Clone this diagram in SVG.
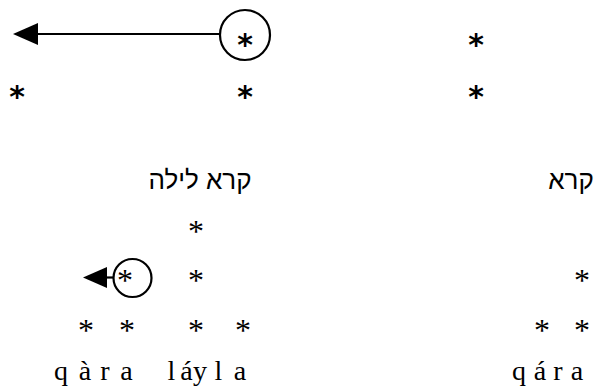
<svg xmlns="http://www.w3.org/2000/svg" width="603" height="390" viewBox="0 0 603 390">
<style>
.bg{fill:#fff}
.s1{font-family:"DejaVu Sans",sans-serif;font-size:30px;font-weight:bold;fill:#000;text-anchor:middle}
.s2{font-family:"Liberation Serif",serif;font-size:32px;fill:#000;text-anchor:middle}
.t{font-family:"Liberation Serif",serif;font-size:28px;fill:#000;text-anchor:middle}
.h{font-family:"Liberation Sans","DejaVu Sans",sans-serif;font-size:26px;fill:#000;text-anchor:middle}
.ln{stroke:#000;stroke-width:2.2;fill:none}
.ah{fill:#000}
</style>
<rect class="bg" width="603" height="390"/>
<g id="top-left">
  <text class="s1" x="245" y="55">*</text>
  <text class="s1" x="17" y="107">*</text>
  <text class="s1" x="245" y="107">*</text>
</g>
<g id="top-right">
  <text class="s1" x="476" y="55">*</text>
  <text class="s1" x="476" y="107">*</text>
</g>
<g id="label-left"><text class="h" x="200" y="189" direction="rtl">קרא לילה</text></g>
<g id="label-right"><text class="h" x="571" y="189" direction="rtl">קרא</text></g>
<g id="grid-left">
  <text class="s2" x="196" y="241.5">*</text>
  <text class="s2" x="125" y="290.5">*</text>
  <text class="s2" x="196" y="290.5">*</text>
  <text class="s2" x="86" y="340.5">*</text>
  <text class="s2" x="127" y="340.5">*</text>
  <text class="s2" x="196" y="340.5">*</text>
  <text class="s2" x="243" y="340.5">*</text>
</g>
<g id="grid-right">
  <text class="s2" x="582" y="290.5">*</text>
  <text class="s2" x="542" y="340.5">*</text>
  <text class="s2" x="582" y="340.5">*</text>
</g>
<g id="word-left">
  <text class="t" y="380"><tspan x="61">q</tspan><tspan x="85">à</tspan><tspan x="105">r</tspan><tspan x="126.5">a</tspan><tspan x="171.5">l</tspan><tspan x="186.5">á</tspan><tspan x="200">y</tspan><tspan x="218.5">l</tspan><tspan x="240">a</tspan></text>
</g>
<g id="word-right">
  <text class="t" y="380"><tspan x="519">q</tspan><tspan x="540">á</tspan><tspan x="558">r</tspan><tspan x="577">a</tspan></text>
</g>
<g id="connectors">
  <circle class="ln" cx="245" cy="35" r="25"/>
  <line class="ln" x1="220" y1="34" x2="36" y2="34"/>
  <polygon class="ah" points="13,34 38,23 38,45"/>
  <circle class="ln" cx="132.5" cy="278" r="19"/>
  <line class="ln" x1="113.5" y1="277.5" x2="105" y2="277.5"/>
  <polygon class="ah" points="83,277.5 107,267 107,288"/>
</g>
</svg>
